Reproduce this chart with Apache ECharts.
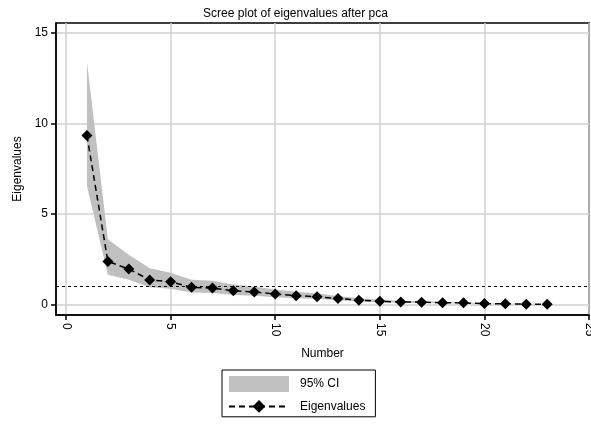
<!DOCTYPE html>
<html><head><meta charset="utf-8">
<script src="https://cdn.jsdelivr.net/npm/echarts@6/dist/echarts.min.js"></script>
<style>html,body{margin:0;padding:0;background:#fff}#c{width:591px;height:424px}</style>
</head><body><div id="c"></div>
<script>
var numbers = [1,2,3,4,5,6,7,8,9,10,11,12,13,14,15,16,17,18,19,20,21,22,23];
var eigenvalues = [9.33,2.38,1.96,1.36,1.25,0.95,0.91,0.76,0.69,0.58,0.49,0.43,0.33,0.24,0.18,0.14,0.13,0.10,0.09,0.05,0.04,0.02,0.01];
var ciUpper = [13.4,3.6,2.75,2.0,1.75,1.37,1.31,1.1,0.99,0.83,0.70,0.61,0.47,0.34,0.26,0.20,0.19,0.14,0.13,0.07,0.06,0.03,0.015];
var ciLower = [6.55,1.65,1.37,0.95,0.87,0.66,0.63,0.53,0.48,0.40,0.34,0.30,0.23,0.17,0.125,0.10,0.09,0.07,0.06,0.035,0.03,0.014,0.007];
var xTicks = [0,5,10,15,20,25];
var yTicks = [0,5,10,15];
var refLine = 1;

var ciRows = numbers.map(function(n,i){return [n, ciLower[i], ciUpper[i]];});
var eigPts = numbers.map(function(n,i){return [n, eigenvalues[i]];});

var chart = echarts.init(document.getElementById('c'));
var font = 'Liberation Sans, Arial, sans-serif';
chart.setOption({
  animation:false,
  textStyle:{fontFamily:font},
  title:{text:'Scree plot of eigenvalues after pca',left:'center',top:3,
    textStyle:{fontSize:12,fontWeight:'normal',color:'#000',fontFamily:font}},
  grid:{left:56,right:2,top:23,bottom:109,show:true,borderColor:'#000',borderWidth:1.5,
    backgroundColor:'transparent',outerBoundsMode:'none',containLabel:false},
  legend:{
    orient:'vertical',left:222,top:370,width:162,
    padding:[6,10,4,6],itemGap:8,itemWidth:60,itemHeight:16,
    borderColor:'#000',borderWidth:1,
    textStyle:{fontSize:12,color:'#000',fontFamily:font,padding:[0,0,0,6]},
    data:[{name:'95% CI',icon:'rect',itemStyle:{color:'#c0c0c0'}},
          {name:'Eigenvalues'}]
  },
  xAxis:{type:'value',min:-0.48,max:25,
    name:'Number',nameLocation:'middle',nameGap:33,
    nameTextStyle:{fontSize:12,color:'#000',fontFamily:font},
    axisLine:{show:true,onZero:false,lineStyle:{color:'#000',width:1.5}},
    axisTick:{show:true,length:5,customValues:xTicks,lineStyle:{color:'#000',width:1.5}},
    axisLabel:{customValues:xTicks,rotate:-90,fontSize:12,color:'#000',margin:8,fontFamily:font},
    splitLine:{show:true,lineStyle:{color:'#d0d0d0',width:1.5}}
  },
  yAxis:{type:'value',min:-0.58,max:15.55,
    name:'Eigenvalues',nameLocation:'middle',nameGap:32,nameRotate:90,
    nameTextStyle:{fontSize:12,color:'#000',fontFamily:font},
    axisLine:{show:true,onZero:false,lineStyle:{color:'#000',width:1.5}},
    axisTick:{show:true,length:5,customValues:yTicks,lineStyle:{color:'#000',width:1.5}},
    axisLabel:{customValues:yTicks,fontSize:12,color:'#000',margin:8,fontFamily:font},
    splitLine:{show:true,lineStyle:{color:'#d0d0d0',width:1.5}}
  },
  series:[
    {name:'95% CI',type:'custom',data:ciRows,itemStyle:{color:'#c0c0c0'},z:1,
      encode:{x:0,y:[1,2]},
      renderItem:function(params, api){
        if (params.dataIndex !== 0) return null;
        var top = [], bot = [];
        for (var i=0;i<ciRows.length;i++){
          top.push(api.coord([ciRows[i][0], ciRows[i][2]]));
          bot.unshift(api.coord([ciRows[i][0], ciRows[i][1]]));
        }
        return {type:'polygon',shape:{points:top.concat(bot)},style:{fill:'#c0c0c0'}};
      }},
    {name:'Eigenvalues',type:'line',data:eigPts,symbol:'diamond',symbolSize:11,
      itemStyle:{color:'#000'},lineStyle:{color:'#000',width:1.5,type:[6,4]},z:3,
      markLine:{silent:true,symbol:'none',label:{show:false},
        lineStyle:{color:'#000',width:1.2,type:[3,3]},
        data:[{yAxis:refLine}]}}
  ]
});
</script></body></html>
